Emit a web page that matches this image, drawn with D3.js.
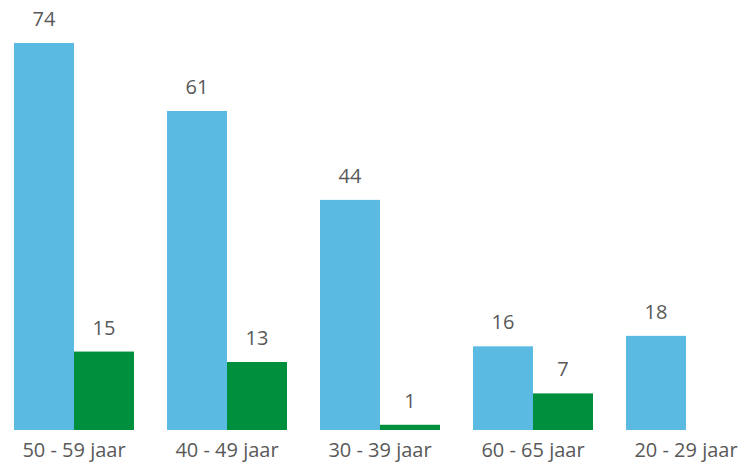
<!DOCTYPE html>
<html>
<head>
<meta charset="utf-8">
<script src="https://cdn.jsdelivr.net/npm/d3@7"></script>
<style>
  body { margin: 0; background: #fff; }
  svg { display: block; }
  text { font-family: "Open Sans", "Noto Sans", sans-serif; fill: #595959; }
</style>
</head>
<body>
<div id="container"></div>
<script>
const width = 749;
const height = 466;

// categories and series values
const categories = ["50 - 59 jaar", "40 - 49 jaar", "30 - 39 jaar", "60 - 65 jaar", "20 - 29 jaar"];
const seriesNames = ["blauw", "groen"];
const blueValues = [74, 61, 44, 16, 18];
const greenValues = [15, 13, 1, 7, null];

const colors = { blauw: "#5bbae2", groen: "#008f3c" };

const baseline = 430;

let svg = d3.select("#container")
	.append("svg")
	.attr("width", width)
	.attr("height", height);

// group scale
const x0 = d3.scaleBand()
	.domain(categories)
	.range([14, 746])
	.paddingInner(33 / 153)
	.paddingOuter(0);

// bars inside a group
const x1 = d3.scaleBand()
	.domain(seriesNames)
	.range([0, x0.bandwidth()]);

const y = d3.scaleLinear()
	.domain([0, 74])
	.range([baseline, 43]);

const rows = categories.map((c, i) => ({
	cat: c,
	values: [
		{ key: "blauw", value: blueValues[i] },
		{ key: "groen", value: greenValues[i] }
	].filter(d => d.value !== null)
}));

let groups = svg.selectAll("g.group")
	.data(rows)
	.enter()
	.append("g")
	.attr("class", "group")
	.attr("transform", d => "translate(" + x0(d.cat) + ",0)");

groups.selectAll("rect")
	.data(d => d.values)
	.enter()
	.append("rect")
	.attr("x", d => x1(d.key))
	.attr("y", d => y(d.value))
	.attr("width", x1.bandwidth())
	.attr("height", d => baseline - y(d.value))
	.attr("fill", d => colors[d.key]);

// value labels
groups.selectAll("text.value")
	.data(d => d.values)
	.enter()
	.append("text")
	.attr("class", "value")
	.attr("x", d => x1(d.key) + x1.bandwidth() / 2)
	.attr("y", d => y(d.value) - 17)
	.attr("text-anchor", "middle")
	.style("font-size", "20px")
	.text(d => d.value);

// category axis
let axis = svg.append("g")
	.attr("transform", "translate(0," + baseline + ")")
	.call(d3.axisBottom(x0).tickSize(0).tickPadding(13));
axis.select(".domain").remove();
axis.selectAll("text")
	.style("font-size", "20px")
	.style("font-family", "'Open Sans', 'Noto Sans', sans-serif")
	.attr("fill", "#595959");
</script>
</body>
</html>
